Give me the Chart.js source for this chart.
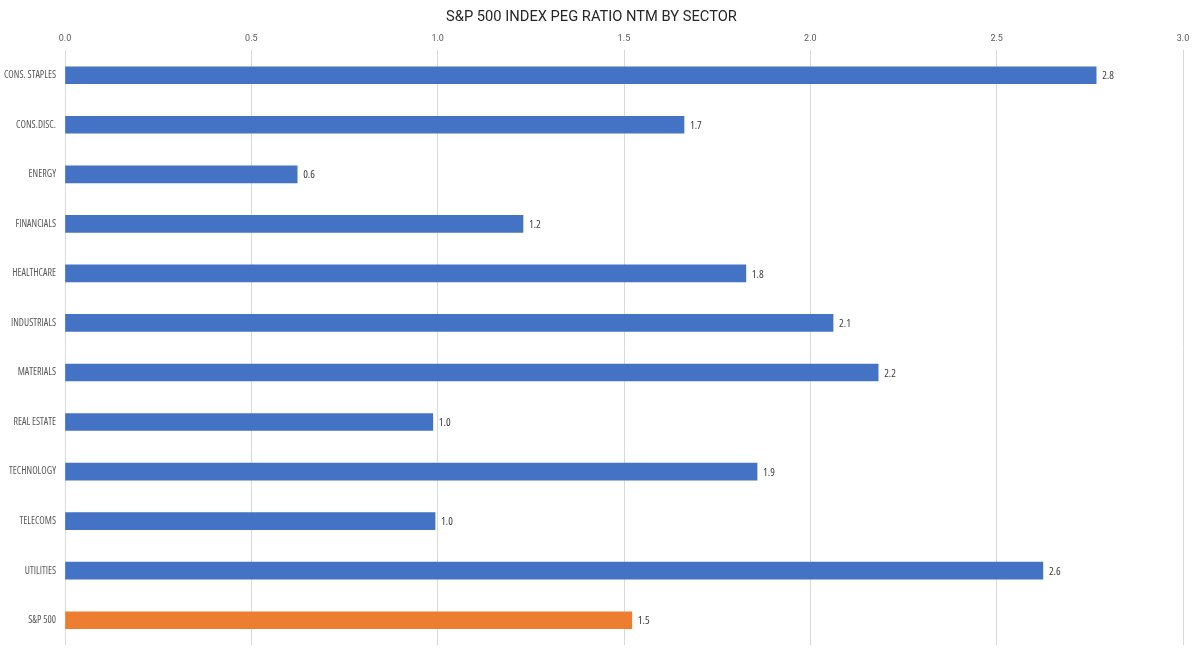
<!DOCTYPE html>
<html><head><meta charset="utf-8">
<script src="https://cdn.jsdelivr.net/npm/chart.js@4/dist/chart.umd.min.js"></script>
<style>html,body{margin:0;padding:0;background:#fff;}#wrap{width:1200px;height:660px;}</style>
</head><body><div id="wrap"><canvas id="c" width="1200" height="660"></canvas></div>
<script>
const categories = ["CONS. STAPLES","CONS.DISC.","ENERGY","FINANCIALS","HEALTHCARE","INDUSTRIALS","MATERIALS","REAL ESTATE","TECHNOLOGY","TELECOMS","UTILITIES","S&P 500"];
const pegValues = [2.767, 1.661, 0.623, 1.229, 1.827, 2.061, 2.182, 0.987, 1.857, 0.993, 2.624, 1.521];
const barColors = ["#4472C4","#4472C4","#4472C4","#4472C4","#4472C4","#4472C4","#4472C4","#4472C4","#4472C4","#4472C4","#4472C4","#ED7D31"];
const COND = "'Open Sans',sans-serif";
const TITLEFONT = "Roboto,sans-serif";

const valueLabels = {
  id: 'valueLabels',
  afterDatasetsDraw(chart) {
    const ctx = chart.ctx;
    const meta = chart.getDatasetMeta(0);
    ctx.save();
    ctx.font = "condensed 11px " + COND;
    ctx.fillStyle = "#404040";
    ctx.textBaseline = "middle";
    ctx.textAlign = "left";
    meta.data.forEach((bar, i) => {
      ctx.fillText(pegValues[i].toFixed(1), bar.x + 6, bar.y + 1);
    });
    ctx.restore();
  }
};

new Chart(document.getElementById('c'), {
  type: 'bar',
  data: {
    labels: categories,
    datasets: [{ data: pegValues, backgroundColor: barColors, borderWidth: 0, barThickness: 17 }]
  },
  options: {
    indexAxis: 'y',
    responsive: false,
    animation: false,
    layout: { padding: { left: 0, right: 17, top: 1, bottom: 1 } },
    plugins: {
      legend: { display: false },
      tooltip: { enabled: false },
      title: {
        display: true,
        text: "S&P 500 INDEX PEG RATIO NTM BY SECTOR",
        color: "#262626",
        font: { family: TITLEFONT, size: 14.7, weight: 'normal' },
        padding: { top: 8, bottom: 1 }
      }
    },
    scales: {
      x: {
        position: 'top',
        min: 0, max: 3,
        ticks: { stepSize: 0.5, color: "#595959", font: { family: TITLEFONT, size: 9 }, padding: 6, callback: v => Number(v).toFixed(1) },
        grid: { color: "#d9d9d9", drawTicks: false, lineWidth: 1 },
        border: { display: false }
      },
      y: {
        afterFit: (s) => { s.width = 65; },
        ticks: { color: "#595959", font: { family: COND, size: 10, weight: 'condensed' }, padding: 9 },
        grid: { display: false, drawTicks: false },
        border: { display: false }
      }
    }
  },
  plugins: [valueLabels]
});
</script></body></html>
